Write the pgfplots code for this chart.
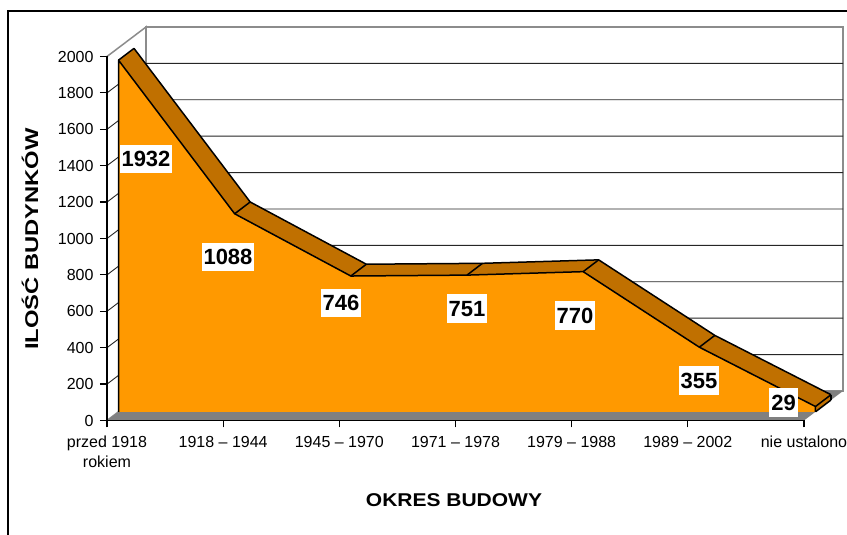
\documentclass[border=0pt]{standalone}
\usepackage{fontspec}
\setmainfont{Liberation Sans}
\newfontfamily\xtitlefont{Liberation Sans}[FakeStretch=1.135]
\newfontfamily\ytitlefont{Liberation Sans}[FakeStretch=1.285]
\usepackage{pgfplots}
\pgfplotsset{compat=1.18}
\usepackage{pgfplotstable}
\definecolor{areaorange}{RGB}{255,153,0}
\definecolor{areatop}{RGB}{192,112,0}
\definecolor{floorgray}{RGB}{128,128,128}
\definecolor{wallgray}{RGB}{140,140,140}
\tikzset{lbl/.style={fill=white, font=\bfseries\fontsize{22}{24}\selectfont, inner xsep=2pt, inner ysep=6.5pt, text height=15.8pt, text depth=0pt}}

\pgfplotstableread{
x y
0 1932
1 1088
2 746
3 751
4 770
5 355
6 29
}\okres

\begin{document}
\begin{tikzpicture}[x=1pt,y=1pt]
\path[use as bounding box] (0,0) rectangle (847,535);
\fill[white] (0,0) rectangle (847,535);
\draw[line width=1.3pt] (8,-5) -- (8,524) -- (860,524);
\node[font=\ytitlefont\bfseries\fontsize{18.5}{20}\selectfont, rotate=90] at (30,296) {ILOŚĆ BUDYNKÓW};
\node[font=\xtitlefont\bfseries\fontsize{18.5}{20}\selectfont] at (454,35) {OKRES BUDOWY};
\begin{axis}[
  at={(107pt,114.5pt)}, anchor=south west,
  scale only axis, width=697pt, height=364pt,
  xmin=0, xmax=6, ymin=0, ymax=2000,
  axis x line*=bottom, axis y line*=left,
  axis line style={line width=1.4pt, black},
  tick align=outside, major tick length=7pt,
  tick style={line width=1.2pt, black},
  xtick={0,...,6},
  xticklabels={{przed 1918\\rokiem}, 1918 – 1944, 1945 – 1970, 1971 – 1978, 1979 – 1988, 1989 – 2002, nie ustalono},
  ytick={0,200,...,2000},
  x tick label style={align=center, font=\fontsize{16}{19.5}\selectfont, yshift=-5pt},
  y tick label style={font=\fontsize{16}{19}\selectfont, xshift=-3pt},
  /pgf/number format/set thousands separator={},
  /pgf/number format/assume math mode=true,
  axis on top,
  clip=false,
]
% walls
\draw[wallgray, line width=1.5pt, fill=white] (axis cs:0,0) -- (axis cs:0,2000) -- ++(39pt,29.5pt) -- ++(0pt,-364pt) -- cycle;
\draw[wallgray, line width=1.5pt, fill=white] ([shift={(39pt,29.5pt)}]axis cs:0,0) rectangle ([shift={(39pt,29.5pt)}]axis cs:6,2000);
\pgfplotsinvokeforeach{200,400,...,1800}{
  \draw[black!85, line width=0.9pt] (axis cs:0,#1) -- ++(39pt,29.5pt) -- ++(697pt,0pt);
}
% floor
\fill[floorgray] (axis cs:0,0) -- (axis cs:6,0) -- ++(39pt,29.5pt) -- ++(-697pt,0pt) -- cycle;
% top band (swept prism)
\pgfplotsinvokeforeach{0,...,44}{
  \addplot[draw=none, fill=areatop, xshift=11.5pt+#1*0.35227pt, yshift=8.7pt+#1*0.26818pt] table[x=x,y=y] {\okres} \closedcycle;
}
% back top edge and right end
\addplot[black, line width=1.5pt, line join=round, xshift=27pt, yshift=20.5pt] table[x=x,y=y] {\okres};
\addplot[black, line width=1.5pt, xshift=27pt, yshift=20.5pt] coordinates {(6,29) (6,0)};
% joins between front and back
\addplot[black, line width=1.5pt, xshift=11.5pt, yshift=8.7pt, quiver={u=0.13343, v=64.84}] table[x=x,y=y] {\okres};
\addplot[black, line width=1.5pt, xshift=11.5pt, yshift=8.7pt, quiver={u=0.13343, v=64.84}] coordinates {(6,0)};
% front face
\addplot[draw=none, fill=areaorange, xshift=11.5pt, yshift=8.7pt] table[x=x,y=y] {\okres} \closedcycle;
\addplot[black, line width=1.5pt, line join=round, xshift=11.5pt, yshift=8.7pt] coordinates {(0,0) (0,1932) (1,1088) (2,746) (3,751) (4,770) (5,355) (6,29) (6,0)};
% labels
\node[lbl] at (axis cs:0.3357,1437) {1932};
\node[lbl] at (axis cs:1.0416,898) {1088};
\node[lbl] at (axis cs:2.0143,646) {746};
\node[lbl] at (axis cs:3.099,615) {751};
\node[lbl] at (axis cs:4.029,577) {770};
\node[lbl] at (axis cs:5.096,220) {355};
\node[lbl] at (axis cs:5.824,99) {29};
\end{axis}
\end{tikzpicture}
\end{document}
